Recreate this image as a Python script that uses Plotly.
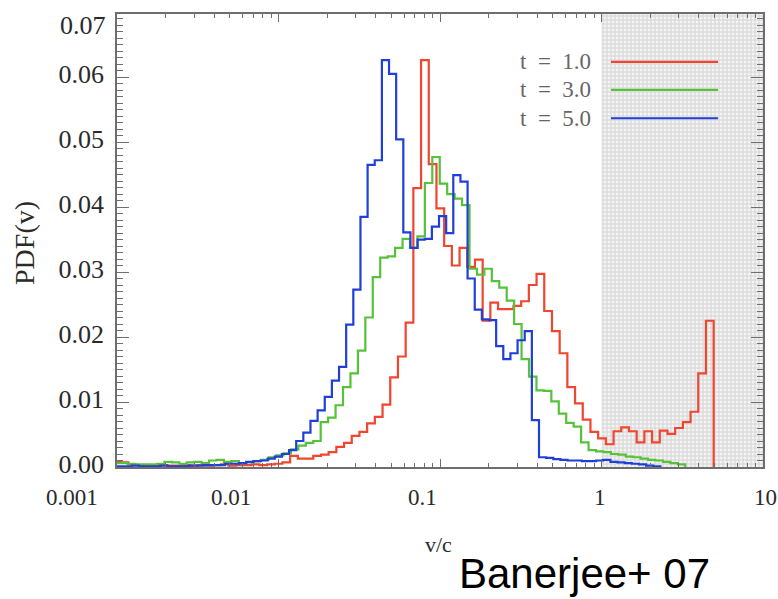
import numpy as np
import plotly.graph_objects as go

# ---------------- data (PDF of v/c, log-uniform bins) ----------------
# t = 1.0
red_logv_start = -3.0245
red_dlogv = 0.04768
red_pdf = [0.0008, 0.0007, 0.0004, 0.0003, 0.0003, 0.0002, 0.0003, 0.0002, 0.0002, 0.0003,
           0.0002, 0.0003, 0.0002, 0.0003, 0.0004, 0.0002, 0.0003, 0.0003, 0.0004, 0.0003,
           0.0004, 0.0005,
           0.0007, 0.0017, 0.0013, 0.0013, 0.0017, 0.0019, 0.0023, 0.0031, 0.0037, 0.0048,
           0.0054, 0.0067, 0.0077, 0.0096, 0.0138, 0.0170, 0.0222,
           0.0429, 0.0626, 0.0466, 0.0398, 0.0340, 0.0310, 0.0337, 0.0308, 0.0319, 0.0225,
           0.0253, 0.0243, 0.0243, 0.0248, 0.0255, 0.0280, 0.0297, 0.0240, 0.0209, 0.0175,
           0.0123, 0.0098, 0.0073, 0.0054, 0.0044, 0.0035, 0.0055, 0.0061, 0.0055, 0.0038,
           0.0055, 0.0038, 0.0056, 0.0051, 0.0060, 0.0069, 0.0085, 0.0144, 0.0225]

# t = 3.0
green_logv_start = -3.0287
green_dlogv = 0.04607
green_pdf = [0.0006, 0.0006, 0.0005, 0.0004, 0.0004, 0.0004, 0.0005, 0.0008, 0.0007, 0.0005,
             0.0007, 0.0008, 0.0006, 0.0010, 0.0011, 0.0008, 0.0009, 0.0006, 0.0007, 0.0009,
             0.0011, 0.0015, 0.0018,
             0.0021, 0.0027, 0.0033, 0.0037, 0.0040, 0.0069, 0.0076, 0.0095, 0.0123, 0.0144,
             0.0179, 0.0230, 0.0292, 0.0322, 0.0324, 0.0337, 0.0351, 0.0337, 0.0355, 0.0437,
             0.0477, 0.0436, 0.0420, 0.0413, 0.0403, 0.0305, 0.0296, 0.0305, 0.0286, 0.0276,
             0.0256, 0.0220, 0.0166, 0.0139, 0.0118, 0.0117, 0.0101, 0.0082, 0.0068, 0.0062,
             0.0038, 0.0026, 0.0024, 0.0023, 0.0020, 0.0019, 0.0016, 0.0015, 0.0013, 0.0011,
             0.0010, 0.0008, 0.0006, 0.0004]

# t = 5.0
blue_logv_start = -3.0402
blue_dlogv = 0.04422
blue_pdf = [0.0001, 0.0001, 0.0001, 0.0002, 0.0001, 0.0001, 0.0001, 0.0002, 0.0001, 0.0001,
            0.0001, 0.0002, 0.0002, 0.0003, 0.0003, 0.0003, 0.0005, 0.0005, 0.0006, 0.0008,
            0.0009, 0.0010, 0.0013, 0.0016, 0.0020, 0.0026,
            0.0040, 0.0053, 0.0071, 0.0087, 0.0108, 0.0133, 0.0154, 0.0219, 0.0273, 0.0385,
            0.0465, 0.0472, 0.0626, 0.0605, 0.0504, 0.0361, 0.0337, 0.0350, 0.0351, 0.0370,
            0.0386, 0.0360, 0.0449, 0.0439, 0.0290, 0.0242, 0.0227, 0.0226, 0.0186, 0.0166,
            0.0175, 0.0195, 0.0209, 0.0072, 0.0015, 0.0014, 0.0012, 0.0011, 0.0010, 0.0010,
            0.0009, 0.0009, 0.0010, 0.0011, 0.0008, 0.0007, 0.0006, 0.0005, 0.0004, 0.0002,
            0.0001]

series_names = ["t = 1.0", "t = 3.0", "t = 5.0"]
series_colors = ["#f0452f", "#55c23a", "#1f3fd8"]

x_tick_values = [0.001, 0.01, 0.1, 1, 10]
x_tick_labels = ["0.001", "0.01", "0.1", "1", "10"]
y_max = 0.0697
shade_range = [1, 10]

# ---------------- figure ----------------
W, H = 778, 599
L, R, T, B = 117, 15, 12, 132
PW, PH = W - L - R, H - T - B


def px_x(px):
    return (px - L) / PW


def px_y(py):
    return (H - B - py) / PH


def step_xy(logv_start, dlogv, vals):
    edges = 10 ** (logv_start + dlogv * np.arange(len(vals) + 1))
    return edges, list(vals) + [0.0]


fig = go.Figure()

# shaded (fine grid) region v/c > 1
fig.add_trace(go.Scatter(
    x=[shade_range[0], shade_range[1], shade_range[1], shade_range[0], shade_range[0]],
    y=[0, 0, y_max, y_max, 0],
    mode="lines", fill="toself", line=dict(width=0),
    fillcolor="rgba(0,0,0,0)",
    fillpattern=dict(shape="+", size=4, solidity=0.45, fgcolor="#b4b4b4", bgcolor="#f4f4f4"),
    hoverinfo="skip", showlegend=False))

for (ls, dl, vals), name, col in zip(
        [(red_logv_start, red_dlogv, red_pdf),
         (green_logv_start, green_dlogv, green_pdf),
         (blue_logv_start, blue_dlogv, blue_pdf)],
        series_names, series_colors):
    xs, ys = step_xy(ls, dl, vals)
    fig.add_trace(go.Scatter(x=xs, y=ys, mode="lines", line_shape="hv",
                             line=dict(color=col, width=2.2), name=name, showlegend=False))

axis_col = "#6e6e6e"
serif = "Liberation Serif, Times New Roman, serif"

fig.update_xaxes(type="log", range=[-3, 1], showline=True, linecolor=axis_col, linewidth=1.5,
                 mirror="ticks", ticks="inside", ticklen=8, tickcolor=axis_col, tickwidth=1.2,
                 dtick=1, showticklabels=False, showgrid=False, zeroline=False,
                 minor=dict(ticks="inside", ticklen=4, tickcolor=axis_col, dtick="D1", showgrid=False))
fig.update_yaxes(range=[0, y_max], showline=True, linecolor=axis_col, linewidth=1.5,
                 mirror="ticks", ticks="inside", ticklen=12, tickcolor=axis_col, tickwidth=1.2,
                 tick0=0, dtick=0.01, tickformat=".2f", showgrid=False, zeroline=False,
                 tickfont=dict(family=serif, size=26, color="#2a2a2a"),
                 ticklabelstandoff=6, ticklabelshift=-3,
                 minor=dict(ticks="inside", ticklen=6, tickcolor=axis_col, dtick=0.001, showgrid=False))

annotations = []
# top tick label (clipped in the original at the frame top)
annotations.append(dict(x=px_x(108), y=px_y(24), xref="paper", yref="paper", text="0.07",
                        showarrow=False, xanchor="right", yanchor="middle",
                        font=dict(family=serif, size=26, color="#2a2a2a")))
# x tick labels
x_label_px = [72, 231, 422, 600, 765]
for lab, px in zip(x_tick_labels, x_label_px):
    annotations.append(dict(x=px_x(px), y=px_y(498), xref="paper", yref="paper", text=lab,
                            showarrow=False, xanchor="center", yanchor="middle",
                            font=dict(family=serif, size=23, color="#2a2a2a")))
# axis titles
annotations.append(dict(x=px_x(438), y=px_y(545), xref="paper", yref="paper", text="v/c",
                        showarrow=False, xanchor="center", yanchor="middle",
                        font=dict(family=serif, size=22, color="#2a2a2a")))
annotations.append(dict(x=px_x(25), y=px_y(242), xref="paper", yref="paper", text="PDF(v)",
                        showarrow=False, textangle=-90, xanchor="center", yanchor="middle",
                        font=dict(family=serif, size=28, color="#2a2a2a")))
# citation
annotations.append(dict(x=px_x(584), y=px_y(574), xref="paper", yref="paper", text="Banerjee+ 07",
                        showarrow=False, xanchor="center", yanchor="middle",
                        font=dict(family="Liberation Sans, Arial, sans-serif", size=42, color="#000000")))

# legend (text left, line right)
shapes = []
legend_y = [60, 88.3, 116.7]
for name, col, py in zip(series_names, series_colors, legend_y):
    annotations.append(dict(x=px_x(593), y=px_y(py), xref="paper", yref="paper",
                            text=name.replace(" ", "\u2002"), showarrow=False,
                            xanchor="right", yanchor="middle",
                            font=dict(family=serif, size=23, color="#666666")))
    shapes.append(dict(type="line", xref="paper", yref="paper", x0=px_x(611), x1=px_x(718),
                       y0=px_y(py), y1=px_y(py), line=dict(color=col, width=2.2)))

fig.update_layout(width=W, height=H, margin=dict(l=L, r=R, t=T, b=B),
                  plot_bgcolor="white", paper_bgcolor="white",
                  annotations=annotations, shapes=shapes, showlegend=False)

fig.write_html("out.html")
